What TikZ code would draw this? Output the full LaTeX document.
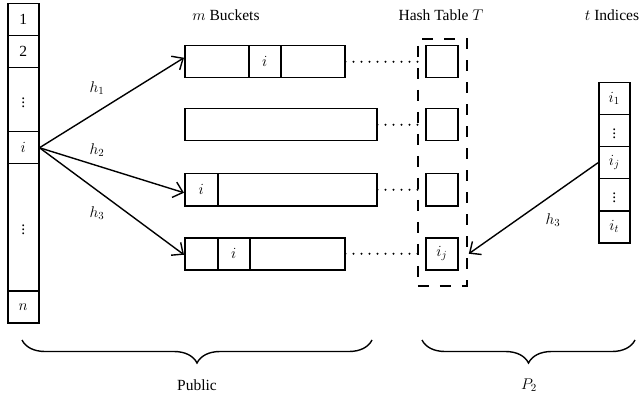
\RequirePackage{fix-cm}
\documentclass[tikz,border=0pt]{standalone}
\usepackage{fontspec}
\setmainfont{Liberation Serif}
\usetikzlibrary{arrows.meta,decorations.pathreplacing,calc}
\begin{document}
\begin{tikzpicture}[x=1pt,y=-1pt,
  font=\fontsize{15.5}{18}\selectfont,
  cell/.style={draw,line width=1.5pt,rectangle,inner sep=0pt,anchor=north west},
  sz/.style 2 args={minimum width=#1pt,minimum height=#2pt},
  arr/.style={line width=1.4pt,-{Straight Barb[length=9pt,width=16pt,line width=1.4pt]}},
  dots/.style={line width=2.2pt,line cap=round,dash pattern=on 0pt off 8pt},
  lbl/.style={inner sep=0pt},
  brc/.style={line width=1.4pt,decorate,decoration={brace,amplitude=23pt,mirror}}
]
\useasboundingbox (0,0) rectangle (642,398);
% left array
\node[cell,sz={31}{32}] (L1) at (7,3) {1};
\node[cell,sz={31}{32}] (L2) at (7,35) {2};
\node[cell,sz={31}{64}] (L3) at (7,67) {$\vdots$};
\node[cell,sz={31}{32}] (Li) at (7,131) {$i$};
\node[cell,sz={31}{127}] (L5) at (7,163) {$\vdots$};
\node[cell,sz={31}{32}] (Ln) at (7,290) {$n$};
% buckets
\node[cell,sz={64}{32}] (b1a) at (184,45) {};
\node[cell,sz={32}{32}] (b1b) at (248,45) {$i$};
\node[cell,sz={64}{32}] (b1c) at (280,45) {};
\node[cell,sz={192}{32}] (b2) at (184,108) {};
\node[cell,sz={33}{32}] (b3a) at (184,173) {$i$};
\node[cell,sz={159}{32}] (b3b) at (217,173) {};
\node[cell,sz={33}{32}] (b4a) at (184,237) {};
\node[cell,sz={32}{32}] (b4b) at (217,237) {$i$};
\node[cell,sz={95}{32}] (b4c) at (249,237) {};
% hash table
\node[cell,sz={49}{247},dash pattern=on 11pt off 11pt,line width=1.8pt] (T) at (417,38) {};
\node[cell,sz={32}{32}] (h1) at (425,45) {};
\node[cell,sz={32}{32}] (h2) at (425,108) {};
\node[cell,sz={32}{32}] (h3) at (425,173) {};
\node[cell,sz={32}{32}] (h4) at (425,237) {$i_j$};
% right array
\node[cell,sz={31}{32}] (R1) at (598,82) {$i_1$};
\node[cell,sz={31}{32}] (R2) at (598,114) {$\vdots$};
\node[cell,sz={31}{32}] (Rj) at (598,146) {$i_j$};
\node[cell,sz={31}{32}] (R4) at (598,178) {$\vdots$};
\node[cell,sz={31}{32}] (Rt) at (598,210) {$i_t$};
% titles
\node[lbl] (tb) at (226,15) {$m$ Buckets};
\node[lbl] (tt) at (441,15) {Hash Table $T$};
\node[lbl] (ti) at (612,15) {$t$ Indices};
% dotted links
\draw[dots] (b1c.east) -- (h1.west);
\draw[dots] (b2.east) -- (h2.west);
\draw[dots] (b3b.east) -- (h3.west);
\draw[dots] (b4c.east) -- (h4.west);
% arrows
\draw[arr] (Li.east) -- ($(b1a.west)+(0,-4)$);
\draw[arr] (Li.east) -- ($(b3a.west)+(0,3)$);
\draw[arr] (Li.east) -- ($(b4a.west)+(0,1)$);
\draw[arr] (Rj.west) -- ($(T.east |- h4.east)+(1,0)$);
\node[lbl] (lh1) at (97,88) {$h_1$};
\node[lbl] (lh2) at (97,150) {$h_2$};
\node[lbl] (lh3) at (97,213) {$h_3$};
\node[lbl] (rh3) at (553,220) {$h_3$};
% braces
\coordinate (pa) at (22,340);
\coordinate (pb) at (372,340);
\coordinate (qa) at (422,340);
\coordinate (qb) at (635,340);
\draw[brc] (pa) -- (pb);
\draw[brc] (qa) -- (qb);
\node[lbl] (pub) at (197,385) {Public};
\node[lbl] (p2) at (529,385) {$P_2$};
\end{tikzpicture}
\end{document}
